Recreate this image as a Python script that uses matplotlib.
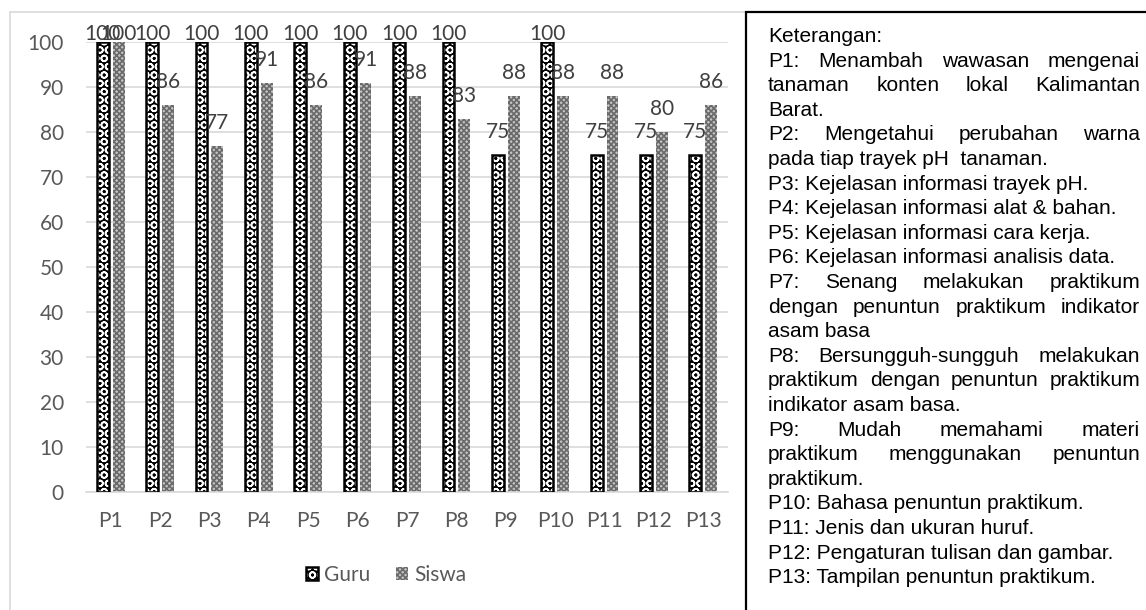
import matplotlib
matplotlib.use('Agg')
import matplotlib.pyplot as plt
from matplotlib.patches import Rectangle
from matplotlib.legend_handler import HandlerTuple
import numpy as np

categories = ['P1', 'P2', 'P3', 'P4', 'P5', 'P6', 'P7', 'P8', 'P9', 'P10', 'P11', 'P12', 'P13']
guru = [100, 100, 100, 100, 100, 100, 100, 100, 75, 100, 75, 75, 75]
siswa = [100, 86, 77, 91, 86, 91, 88, 83, 88, 88, 88, 80, 86]

# keterangan: (baris, rata kiri-kanan?)
keterangan = [
    ('Keterangan:', False),
    ('P1: Menambah wawasan mengenai', True),
    ('tanaman konten lokal Kalimantan', True),
    ('Barat.', False),
    ('P2: Mengetahui perubahan warna', True),
    ('pada tiap trayek pH  tanaman.', False),
    ('P3: Kejelasan informasi trayek pH.', False),
    ('P4: Kejelasan informasi alat & bahan.', False),
    ('P5: Kejelasan informasi cara kerja.', False),
    ('P6: Kejelasan informasi analisis data.', False),
    ('P7: Senang melakukan praktikum', True),
    ('dengan penuntun praktikum indikator', True),
    ('asam basa', False),
    ('P8: Bersungguh-sungguh melakukan', True),
    ('praktikum dengan penuntun praktikum', True),
    ('indikator asam basa.', False),
    ('P9: Mudah memahami materi', True),
    ('praktikum menggunakan penuntun', True),
    ('praktikum.', False),
    ('P10: Bahasa penuntun praktikum.', False),
    ('P11: Jenis dan ukuran huruf.', False),
    ('P12: Pengaturan tulisan dan gambar.', False),
    ('P13: Tampilan penuntun praktikum.', False),
]

W, H = 1146, 610
plt.rcParams['hatch.linewidth'] = 1.2
fig = plt.figure(figsize=(W / 100, H / 100), dpi=100)

# bingkai grafik
fig.patches.append(Rectangle((10 / W, -0.05), 0.7, 1 - 12 / H + 0.05, transform=fig.transFigure,
                             fill=False, edgecolor='#d9d9d9', lw=1.2, zorder=0))

ax = fig.add_axes([86 / W, 1 - 492 / H, (728 - 86) / W, (492 - 42) / H])
x = np.arange(len(categories))
bw = 0.24
off = 0.16

g1 = ax.bar(x - off, guru, bw, color='black', edgecolor='white', hatch='OO', lw=0, zorder=2)
g2 = ax.bar(x - off, guru, bw, fill=False, edgecolor='black', lw=1.8, zorder=3)
s1 = ax.bar(x + off, siswa, bw, color='#c4c4c4', edgecolor='#6a6a6a', hatch='xxxxxx', lw=0, zorder=2)

for xs, vals in ((x - off, guru), (x + off, siswa)):
    for xi, v in zip(xs, vals):
        dy = 1.5 if v >= 100 else 12
        ax.annotate(str(v), (xi, v), xytext=(0, dy), textcoords='offset points',
                    ha='center', va='baseline', fontsize=15, family='Lato', color='#404040',
                    annotation_clip=False, zorder=4)

ax.set_xlim(-0.5, len(categories) - 0.5)
ax.set_ylim(0, 100)
ax.set_yticks(range(0, 101, 10))
ax.set_xticks(x)
ax.set_xticklabels(categories)
ax.grid(axis='y', color='#d9d9d9', lw=1.2, zorder=0)
ax.set_axisbelow(True)
for s in ['top', 'left', 'right']:
    ax.spines[s].set_visible(False)
ax.spines['bottom'].set_color('#d9d9d9')
ax.spines['bottom'].set_linewidth(1.2)
ax.tick_params(axis='both', length=0, labelsize=15, labelcolor='#595959')
ax.tick_params(axis='y', pad=16)
ax.tick_params(axis='x', pad=14)
for lab in ax.get_xticklabels() + ax.get_yticklabels():
    lab.set_family('Lato')

leg = fig.legend([(g1, g2), s1], ['Guru', 'Siswa'], loc='center',
                 bbox_to_anchor=(386 / W, 1 - 575 / H), ncol=2, frameon=False,
                 prop={'family': 'Lato', 'size': 15}, handlelength=0.6, handleheight=0.6,
                 handletextpad=0.3, columnspacing=1.2,
                 handler_map={tuple: HandlerTuple(ndivide=1, pad=0)})
for t in leg.get_texts():
    t.set_color('#595959')

# kotak keterangan
fig.patches.append(Rectangle((746 / W, -0.05), 0.4, 1 - 12 / H + 0.05, transform=fig.transFigure,
                             facecolor='white', edgecolor='black', lw=1.6, zorder=5))

left, right = 768, 1140
renderer = fig.canvas.get_renderer()
font = dict(family='Liberation Sans', size=15, color='black', zorder=6)
for i, (line, justify) in enumerate(keterangan):
    yb = 1 - (42 + 24.6 * i) / H
    if not justify:
        fig.text(left / W, yb, line, va='baseline', ha='left', **font)
        continue
    words = line.split()
    texts = [fig.text(0, yb, w, va='baseline', ha='left', **font) for w in words]
    widths = [t.get_window_extent(renderer).width for t in texts]
    gap = (right - left - sum(widths)) / (len(words) - 1)
    xpos = left
    for t, w in zip(texts, widths):
        t.set_x(xpos / W)
        xpos += w + gap

fig.savefig('out.png', dpi=100)
